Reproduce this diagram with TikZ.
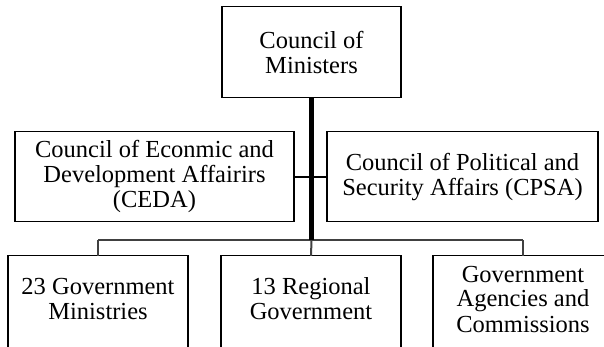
\documentclass[tikz,border=0pt]{standalone}
\usepackage{fontspec}
\setmainfont{Liberation Serif}
\begin{document}
\begin{tikzpicture}[x=1pt,y=-1pt,
  box/.style={draw=black,line width=1.3pt,rectangle,align=center,inner sep=0pt,
    font=\fontsize{24.5}{25}\selectfont},
  lowbox/.style={rectangle,align=center,inner sep=0pt,minimum width=179.5pt,minimum height=86pt,
    font=\fontsize{24.5}{25}\selectfont},
  outline/.style={draw=black,line width=1.3pt},
  trunk/.style={draw=black,line width=4.5pt},
  link/.style={draw=black,line width=2pt},
  bus/.style={draw=black!75,line width=2pt}]
\useasboundingbox (0,0) rectangle (604,346);
\clip (0,0) rectangle (604,346);
\fill[white] (0,0) rectangle (604,346);

\node[box,minimum width=179pt,minimum height=91pt] (top) at (311.5,52.2) {Council of\\Ministers};
\node[box,minimum width=279pt,minimum height=90pt] (ceda) at (154.5,176.7) {Council of Econmic and\\Development Affairirs\\(CEDA)};
\node[box,minimum width=271pt,minimum height=90pt] (cpsa) at (462.5,176.7) {Council of Political and\\Security Affairs (CPSA)};

\node[lowbox] (b1) at (98,299) {23 Government\\Ministries};
\node[lowbox] (b2) at (311,299) {13 Regional\\Government};
\node[lowbox] (b3) at (523,299) {Government\\Agencies and\\Commissions};

\foreach \b in {b1,b2,b3}{
  \draw[outline] ([yshift=-40pt]\b.south west) -- (\b.north west) -- (\b.north east) -- ([yshift=-40pt]\b.south east);
}

\coordinate (jC) at (311.5,240);
\coordinate (jL) at (98,240);
\coordinate (jR) at (523,240);

\draw[link] (ceda.east) -- (cpsa.west);
\draw[bus] (jL) -- (jR);
\draw[bus] (jL) -- (b1.north);
\draw[bus] (jR) -- (b3.north);
\draw[bus] (jC) -- (b2.north);
\draw[trunk] (top.south) -- (jC);
\end{tikzpicture}
\end{document}
